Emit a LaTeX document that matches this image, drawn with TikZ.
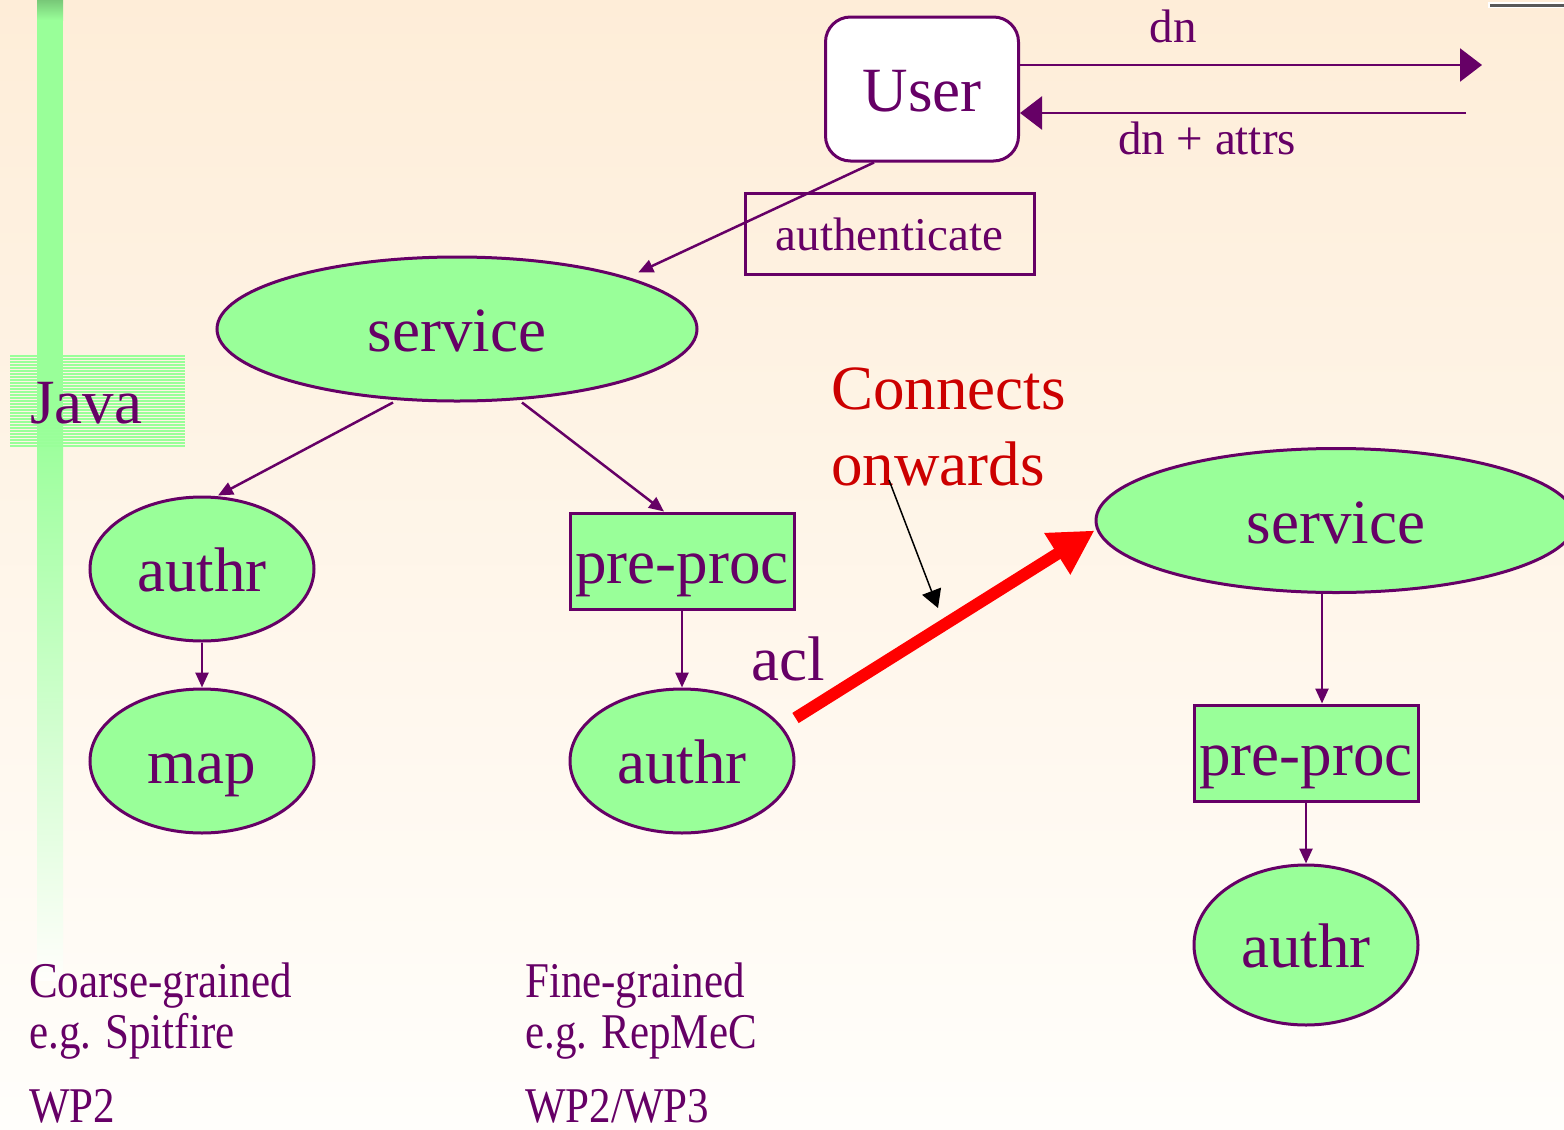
\documentclass[tikz,border=0pt]{standalone}
\usepackage{fontspec}
\setmainfont{Liberation Serif}
\usetikzlibrary{shapes.geometric,arrows.meta}
\definecolor{ink}{RGB}{102,0,102}
\definecolor{leaf}{RGB}{153,255,153}
\definecolor{bgTop}{RGB}{254,237,216}
\definecolor{bgBot}{RGB}{255,254,251}
\definecolor{barTop}{RGB}{120,200,120}
\definecolor{warn}{RGB}{204,0,0}
\definecolor{hot}{RGB}{255,0,0}
\newcommand\bigtxt{\fontsize{63}{70}\selectfont}
\newcommand\midtxt{\fontsize{47}{52}\selectfont}
\newcommand\lowtxt{\fontsize{50}{55}\selectfont}
\tikzset{
  blob/.style={ellipse, draw=ink, fill=leaf, line width=3pt, text=ink, font=\bigtxt,
    text height=45pt, text depth=0pt, inner sep=0pt, minimum width=224pt, minimum height=144pt},
  slab/.style={rectangle, draw=ink, fill=leaf, line width=3pt, text=ink, font=\bigtxt,
    text height=45pt, text depth=0pt, inner sep=0pt, minimum width=224pt, minimum height=96pt},
  lbl/.style={text=ink, inner sep=0pt},
  foot/.style={lbl, font=\lowtxt, anchor=base west, xscale=0.86},
  tolink/.style={draw=ink, line width=2.5pt, -{Triangle[length=15pt,width=13pt]}},
  wide/.style={draw=ink, line width=2.5pt, -{Triangle[length=22pt,width=33pt]}}
}
\begin{document}
\begin{tikzpicture}[x=1pt,y=-1pt]
  \useasboundingbox (0,0) rectangle (1564,1130);
  \shade[top color=bgTop,bottom color=bgBot] (0,0) rectangle (1564,1130);
  % left bar and Java tag
  \shade[top color=barTop,bottom color=leaf] (37,0) rectangle (63,20);
  \fill[leaf] (37,20) rectangle (63,420);
  \shade[top color=leaf,bottom color=bgBot] (37,420) rectangle (63,980);
  \foreach \yy in {356,359,...,446} \draw[leaf,line width=1.5pt] (10,\yy) -- (185,\yy);
  \node[lbl,font=\bigtxt,anchor=base west] (java) at (30,423) {Java};
  \draw[white,line width=6pt] (1488,5) -- (1564,5);
  \draw[gray!70!black,line width=3pt] (1490,5) -- (1564,5);

  \node[draw=ink,fill=white,line width=3pt,rounded corners=25pt,minimum width=193pt,
    minimum height=144pt,text=ink,font=\bigtxt,text height=45pt,text depth=0pt] (user) at (922,89) {User};
  \node[draw=ink,line width=3pt,minimum width=289pt,minimum height=81pt,text=ink,font=\midtxt,
    text height=34pt,text depth=0pt,inner sep=0pt] (auth) at (889.5,233.5) {authenticate};

  \node[blob,minimum width=480pt] (svcA) at (457,329) {service};
  \node[blob] (authrA) at (202,569) {authr};
  \node[blob] (mapA) at (202,761) {map};
  \node[slab] (preA) at (682,561) {pre-proc};
  \node[blob] (authrB) at (682,761) {authr};

  \node[blob,minimum width=480pt] (svcB) at (1336,520.5) {service};
  \node[slab] (preB) at (1306,753) {pre-proc};
  \node[blob,minimum height=160pt] (authrC) at (1306,945) {authr};

  \node[lbl,font=\bigtxt,anchor=base west] (acl) at (751,680) {acl};
  \node[lbl,font=\bigtxt,text=warn,anchor=base west] (cnTop) at (831,409) {Connects};
  \node[lbl,font=\bigtxt,text=warn,anchor=base west] (cnBot) at (831,485) {onwards};
  \node[lbl,font=\midtxt,anchor=base] (dnLbl) at (1173,42) {dn};
  \node[lbl,font=\midtxt,anchor=base] (attrLbl) at (1207,154) {dn + attrs};

  \node[foot] (coarse) at (29,997) {Coarse-grained};
  \node[foot] (spit) at (29,1048) {e.g. Spitfire};
  \node[foot] (wpA) at (29,1122) {WP2};
  \node[foot] (fine) at (525,997) {Fine-grained};
  \node[foot] (rep) at (525,1048) {e.g. RepMeC};
  \node[foot] (wpB) at (525,1122) {WP2/WP3};

  \coordinate (dnEnd) at (1482,65);
  \coordinate (backStart) at (1466,113);
  \coordinate (cnFrom) at (889,480);
  \coordinate (cnTo) at (938,608);

  \draw[wide] ([yshift=24pt]user.east) -- (dnEnd);
  \draw[wide] (backStart) -- ([yshift=-24pt]user.east);
  \draw[tolink] ([xshift=-48pt]user.south) -- ([yshift=8pt]svcA.15);
  \draw[tolink] ([xshift=-64pt]svcA.south) -- ([xshift=16pt]authrA.north);
  \draw[tolink] ([xshift=65pt]svcA.south) -- ([xshift=-18pt]preA.north);
  \draw[tolink] (authrA.south) -- (mapA.north);
  \draw[tolink] (preA.south) -- (authrB.north);
  \draw[tolink] ([xshift=-14pt]svcB.south) -- ([xshift=16pt]preB.north);
  \draw[tolink] (preB.south) -- (authrC.north);
  \draw[draw=hot,line width=12pt,-{Triangle[length=44pt,width=46pt]}] ([yshift=43pt]authrB.east) -- ([yshift=-10pt]svcB.west);
  \draw[black,line width=1.5pt,-{Triangle[length=18pt,width=20pt]}] (cnFrom) -- (cnTo);
\end{tikzpicture}
\end{document}
